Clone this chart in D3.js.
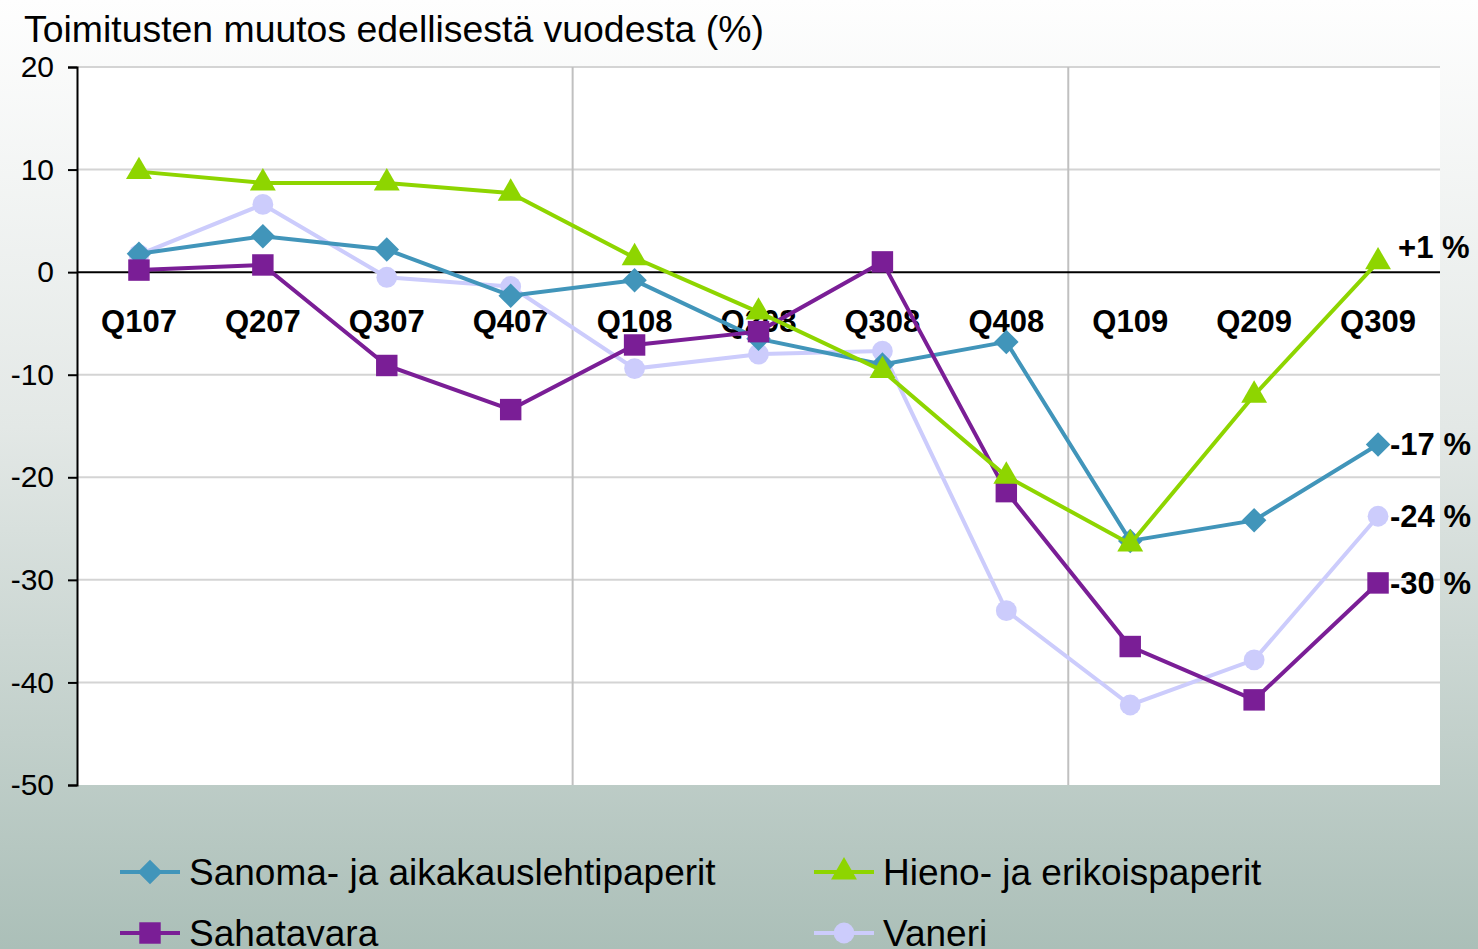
<!DOCTYPE html>
<html lang="fi">
<head>
	<meta charset="utf-8">
	<title>Toimitusten muutos</title>
	<script src="https://cdn.jsdelivr.net/npm/d3@7"></script>
	<style>
		body { margin: 0; }
		svg text { font-family: "Liberation Sans", Arial, sans-serif; }
	</style>
</head>
<body>
<div id="chart"></div>
<script>
	// Data
	var categories = ["Q107", "Q207", "Q307", "Q407", "Q108", "Q208", "Q308", "Q408", "Q109", "Q209", "Q309"];
	var sanoma = [1.8, 3.5, 2.2, -2.3, -0.8, -6.5, -9.0, -6.8, -26.2, -24.2, -16.8];
	var hieno = [9.8, 8.7, 8.7, 7.7, 1.4, -3.9, -9.6, -19.9, -26.5, -12.0, 1.0];
	var sahatavara = [0.2, 0.7, -9.1, -13.4, -7.1, -5.8, 1.0, -21.4, -36.5, -41.7, -30.3];
	var vaneri = [1.7, 6.6, -0.5, -1.4, -9.4, -8.0, -7.7, -33.0, -42.2, -37.8, -23.8];
	var yTicks = [20, 10, 0, -10, -20, -30, -40, -50];
	var endLabels = ["+1 %", "-17 %", "-24 %", "-30 %"];

	var width = 1478, height = 949;
	var margin = {top: 67, right: 38, bottom: 164, left: 77};

	// diamond = square turned 45 degrees
	var series = [
		{name: "Sanoma- ja aikakauslehtipaperit", values: sanoma, color: "#4195ba", symbol: d3.symbolSquare, size: 300, rotate: 45},
		{name: "Hieno- ja erikoispaperit", values: hieno, color: "#8ed500", symbol: d3.symbolTriangle, size: 290, rotate: 0},
		{name: "Sahatavara", values: sahatavara, color: "#7a1e96", symbol: d3.symbolSquare, size: 460, rotate: 0},
		{name: "Vaneri", values: vaneri, color: "#ccccfc", symbol: d3.symbolCircle, size: 340, rotate: 0}
	];

	var svg = d3.select("#chart").append("svg")
		.attr("width", width)
		.attr("height", height);

	// background gradient
	var grad = svg.append("defs").append("linearGradient")
		.attr("id", "bg").attr("x1", 0).attr("y1", 0).attr("x2", 0).attr("y2", 1);
	grad.append("stop").attr("offset", "0%").attr("stop-color", "#fefefe");
	grad.append("stop").attr("offset", "45%").attr("stop-color", "#e3e8e6");
	grad.append("stop").attr("offset", "100%").attr("stop-color", "#abbfb8");
	svg.append("rect").attr("width", width).attr("height", height).attr("fill", "url(#bg)");

	var x = d3.scaleBand()
		.domain(categories)
		.range([margin.left, width - margin.right]);

	var y = d3.scaleLinear()
		.domain([-50, 20])
		.range([height - margin.bottom, margin.top]);

	// plot area
	svg.append("rect")
		.attr("x", margin.left).attr("y", margin.top)
		.attr("width", width - margin.right - margin.left)
		.attr("height", y(-50) - margin.top)
		.attr("fill", "white");

	// horizontal gridlines
	svg.append("g").selectAll("line")
		.data(yTicks.filter(function(d){ return d !== 0 && d !== -50; }))
		.enter().append("line")
		.attr("x1", margin.left).attr("x2", width - margin.right)
		.attr("y1", function(d){ return y(d); }).attr("y2", function(d){ return y(d); })
		.attr("stroke", "#d4d4d4").attr("stroke-width", 2);

	// vertical year separators
	svg.append("g").selectAll("line")
		.data(["Q108", "Q109"])
		.enter().append("line")
		.attr("x1", function(d){ return x(d); }).attr("x2", function(d){ return x(d); })
		.attr("y1", margin.top).attr("y2", y(-50))
		.attr("stroke", "#c0c0c0").attr("stroke-width", 2);

	// y axis
	var yAxis = d3.axisLeft(y).tickValues(yTicks).tickSize(9).tickPadding(14)
		.tickFormat(function(d){ return String(d); });
	var gy = svg.append("g")
		.attr("transform", "translate(" + margin.left + ",0)")
		.call(yAxis);
	gy.attr("font-family", null);
	gy.select(".domain").attr("stroke", "#000").attr("stroke-width", 2);
	gy.selectAll(".tick line").attr("stroke", "#000").attr("stroke-width", 2);
	gy.selectAll("text")
		.style("font-size", "30px").attr("fill", "#000");

	// zero line
	svg.append("line")
		.attr("x1", margin.left).attr("x2", width - margin.right)
		.attr("y1", y(0)).attr("y2", y(0))
		.attr("stroke", "#000").attr("stroke-width", 2);

	// category labels
	svg.append("g").selectAll("text")
		.data(categories)
		.enter().append("text")
		.attr("x", function(d){ return x(d) + x.bandwidth() / 2; })
		.attr("y", y(0) + 60)
		.attr("text-anchor", "middle")
		.style("font-size", "31px").style("font-weight", "bold")
		.text(function(d){ return d; });

	// lines and markers
	var line = d3.line()
		.x(function(d, i){ return x(categories[i]) + x.bandwidth() / 2; })
		.y(function(d){ return y(d); });

	var order = [3, 0, 2, 1];
	order.forEach(function(k){
		var s = series[k];
		var g = svg.append("g");
		g.append("path")
			.datum(s.values)
			.attr("d", line)
			.attr("fill", "none")
			.attr("stroke", s.color)
			.attr("stroke-width", 4);
		g.selectAll("path.m")
			.data(s.values)
			.enter().append("path")
			.attr("class", "m")
			.attr("d", d3.symbol().type(s.symbol).size(s.size))
			.attr("transform", function(d, i){
				return "translate(" + (x(categories[i]) + x.bandwidth() / 2) + "," + y(d) + ") rotate(" + s.rotate + ")";
			})
			.attr("fill", s.color);
	});

	// end labels
	var endSeries = [1, 0, 3, 2];
	var last = categories.length - 1;
	svg.append("g").selectAll("text")
		.data(endLabels)
		.enter().append("text")
		.attr("x", function(d, i){ return x(categories[last]) + x.bandwidth() / 2 + (i === 0 ? 20 : 12); })
		.attr("y", function(d, i){ return y(series[endSeries[i]].values[last]) + (i === 0 ? -4 : 11); })
		.style("font-size", "31px").style("font-weight", "bold")
		.text(function(d){ return d; });

	// title
	svg.append("text")
		.attr("x", 24).attr("y", 42)
		.style("font-size", "37.4px")
		.text("Toimitusten muutos edellisestä vuodesta (%)");

	// legend
	var legendPos = [[120, 872], [814, 872], [120, 933], [814, 933]];
	var legendOrder = [0, 1, 2, 3];
	var lg = svg.append("g").selectAll("g")
		.data(legendOrder)
		.enter().append("g")
		.attr("transform", function(d, i){ return "translate(" + legendPos[i][0] + "," + legendPos[i][1] + ")"; });
	lg.append("line")
		.attr("x1", 0).attr("x2", 60)
		.attr("stroke", function(d){ return series[d].color; })
		.attr("stroke-width", 4);
	lg.append("path")
		.attr("d", function(d){ return d3.symbol().type(series[d].symbol).size(series[d].size)(); })
		.attr("transform", function(d){ return "translate(30,0) rotate(" + series[d].rotate + ")"; })
		.attr("fill", function(d){ return series[d].color; });
	lg.append("text")
		.attr("x", 69).attr("y", 13)
		.style("font-size", "37px")
		.text(function(d){ return series[d].name; });
</script>
</body>
</html>
